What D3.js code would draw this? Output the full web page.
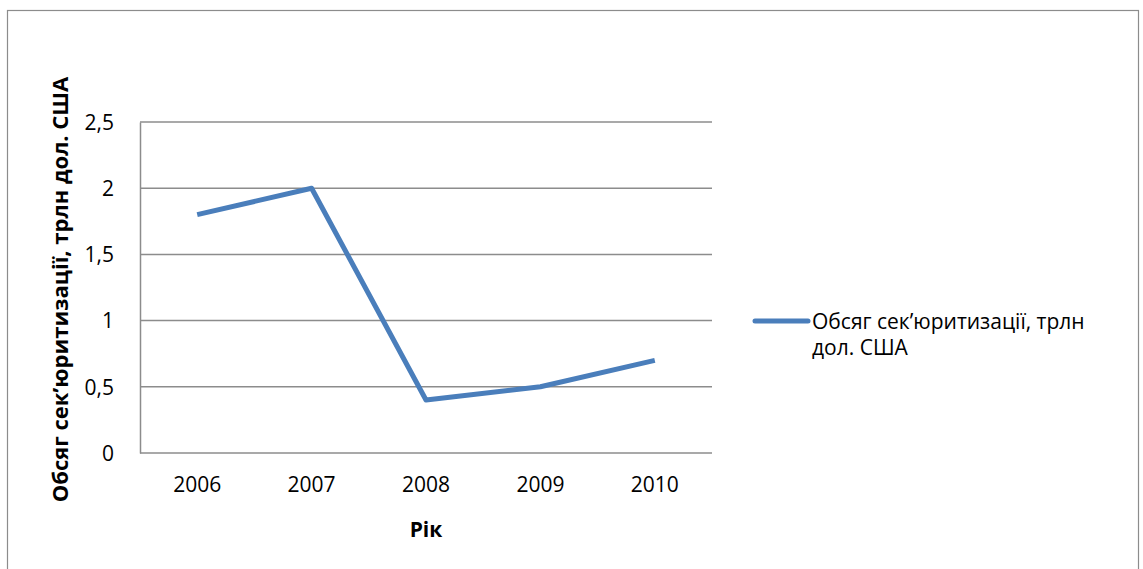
<!DOCTYPE html>
<html>
<head>
<meta charset="utf-8">
<script src="https://cdn.jsdelivr.net/npm/d3@7"></script>
<style>
  html, body { margin: 0; padding: 0; background: #fff; }
  svg { display: block; }
  text { font-family: "Open Sans", "Noto Sans", sans-serif; fill: #000; }
</style>
</head>
<body>
<svg id="chart" width="1143" height="569"></svg>
<script>
// Securitization volume by year
const years = ["2006", "2007", "2008", "2009", "2010"];
const volumes = [1.8, 2.0, 0.4, 0.5, 0.7];
const yTicks = [0, 0.5, 1, 1.5, 2, 2.5];
const legendLines = ["Обсяг сек’юритизації, трлн", "дол. США"];
const yTitle = "Обсяг сек’юритизації, трлн дол. США";
const xTitle = "Рік";

const svg = d3.select("#chart");
const plot = { left: 140, right: 712, top: 122, bottom: 453 };
const fs = 21;

// outer frame
svg.append("rect")
  .attr("x", 7.5).attr("y", 10.5)
  .attr("width", 1131).attr("height", 560)
  .attr("fill", "#fff").attr("stroke", "#8c8c8c").attr("stroke-width", 1.2);

const x = d3.scaleBand().domain(years).range([plot.left, plot.right]);
const y = d3.scaleLinear().domain([0, 2.5]).range([plot.bottom, plot.top]);

// horizontal gridlines
svg.append("g")
  .selectAll("line")
  .data(yTicks)
  .join("line")
  .attr("x1", plot.left).attr("x2", plot.right)
  .attr("y1", d => y(d)).attr("y2", d => y(d))
  .attr("stroke", "#8c8c8c").attr("stroke-width", 1.5);

// y axis
const yAxis = svg.append("g")
  .attr("transform", `translate(${plot.left},0)`)
  .call(d3.axisLeft(y).tickValues(yTicks).tickSize(0).tickPadding(26)
    .tickFormat(d => String(d).replace(".", ",")));
yAxis.select(".domain").attr("stroke", "#8c8c8c").attr("stroke-width", 1.5);
yAxis.selectAll("text").attr("font-size", fs).attr("dy", "0.35em");

// x axis
const xAxis = svg.append("g")
  .attr("transform", `translate(0,${plot.bottom})`)
  .call(d3.axisBottom(x).tickSize(0).tickPadding(24));
xAxis.select(".domain").remove();
xAxis.selectAll("text").attr("font-size", fs);

// data line
const line = d3.line()
  .x((d, i) => x(years[i]) + x.bandwidth() / 2)
  .y(d => y(d));
svg.append("path")
  .datum(volumes)
  .attr("d", line)
  .attr("fill", "none")
  .attr("stroke", "#4a7ebb")
  .attr("stroke-width", 5)
  .attr("stroke-linejoin", "round");

// axis titles
svg.append("text")
  .attr("transform", `translate(68,${(plot.top + plot.bottom) / 2 + 2}) rotate(-90)`)
  .attr("text-anchor", "middle")
  .attr("font-size", 22).attr("font-weight", "bold")
  .text(yTitle);

svg.append("text")
  .attr("x", x("2008") + x.bandwidth() / 2).attr("y", 537)
  .attr("text-anchor", "middle")
  .attr("font-size", fs).attr("font-weight", "bold")
  .text(xTitle);

// legend
const lg = svg.append("g");
lg.append("line")
  .attr("x1", 755).attr("x2", 808)
  .attr("y1", 321).attr("y2", 321)
  .attr("stroke", "#4a7ebb").attr("stroke-width", 5)
  .attr("stroke-linecap", "round");
lg.append("text")
  .attr("font-size", fs)
  .selectAll("tspan")
  .data(legendLines)
  .join("tspan")
  .attr("x", 812)
  .attr("y", (d, i) => 329 + i * 26)
  .text(d => d);
</script>
</body>
</html>
